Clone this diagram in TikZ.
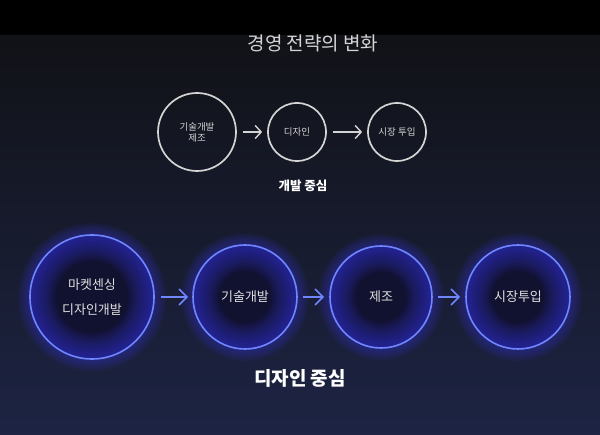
\documentclass[tikz,border=0pt]{standalone}
\usepackage{fontspec}
\newfontfamily\krfont{Noto Sans CJK KR}
\usetikzlibrary{arrows.meta}
\definecolor{bgTop}{HTML}{111217}
\definecolor{bgBot}{HTML}{1D2444}
\definecolor{ringGrey}{HTML}{D4D4D4}
\definecolor{ringBlue}{HTML}{6F86FF}
\definecolor{glowBlue}{HTML}{3A3AE6}
\definecolor{innerDark}{HTML}{111130}
\begin{document}
\begin{tikzpicture}[x=1pt,y=-1pt,font=\krfont,
  topring/.style={circle,draw=ringGrey,line width=1.7pt,inner sep=0pt,text=ringGrey,font=\krfont\fontsize{9.5}{11}\selectfont,align=center},
  botring/.style={circle,draw=ringBlue,line width=1.6pt,inner sep=0pt,text=white!88!black,font=\krfont\fontsize{13}{25}\selectfont,align=center},
  toparrow/.style={ringGrey,line width=1.4pt,-{Straight Barb[length=6pt,width=13pt]}},
  botarrow/.style={ringBlue,line width=1.6pt,-{Straight Barb[length=8pt,width=16pt]}}]
\useasboundingbox (0,0) rectangle (600,435);
\fill[black] (0,0) rectangle (600,36);
\shade[top color=bgTop,bottom color=bgBot] (0,36) rectangle (600,435);

%上排（開發中心）
\coordinate (cTechPt) at (197,132);
\coordinate (cDesignPt) at (297,132);
\coordinate (cMarketPt) at (397,132);

%下排（設計中心）
\coordinate (cSensePt) at (92,297);
\coordinate (cDevPt) at (245,297);
\coordinate (cMakePt) at (381,297);
\coordinate (cLaunchPt) at (518,297);

\node[text=ringGrey,font=\krfont\fontsize{19}{22}\selectfont] (cTitlePt) at (313,43) {경영 전략의 변화};

%發光的圓
\foreach \c/\r in {cSensePt/62,cDevPt/52,cMakePt/51,cLaunchPt/52}{
  \fill[innerDark] (\c) circle ({\r*1pt});
  \foreach \w in {2,4,...,26}
    \draw[glowBlue,opacity=0.06,line width=\w pt] (\c) circle ({(\r-\w/2)*1pt});
  \foreach \w in {2,4,...,12}
    \draw[glowBlue,opacity=0.07,line width=\w pt] (\c) circle ({(\r+\w/2)*1pt});
}

\node[topring,minimum size=78pt] (cTechNd) at (cTechPt) {기술개발\\제조};
\node[topring,minimum size=58pt] (cDesignNd) at (cDesignPt) {디자인};
\node[topring,minimum size=58pt] (cMarketNd) at (cMarketPt) {시장 투입};
\draw[toparrow,shorten <=6pt,shorten >=5pt] (cTechNd) -- (cDesignNd);
\draw[toparrow,shorten <=6pt,shorten >=5pt] (cDesignNd) -- (cMarketNd);
\node[text=white,font=\krfont\bfseries\fontsize{12.5}{14}\selectfont] (cTopCapPt) at (303,186) {개발 중심};

\node[botring,minimum size=124pt] (cSenseNd) at (cSensePt) {마켓센싱\\디자인개발};
\node[botring,minimum size=104pt] (cDevNd) at (cDevPt) {기술개발};
\node[botring,minimum size=102pt] (cMakeNd) at (cMakePt) {제조};
\node[botring,minimum size=104pt] (cLaunchNd) at (cLaunchPt) {시장투입};
\draw[botarrow,shorten <=6pt,shorten >=4pt] (cSenseNd) -- (cDevNd);
\draw[botarrow,shorten <=5pt,shorten >=5pt] (cDevNd) -- (cMakeNd);
\draw[botarrow,shorten <=5pt,shorten >=5pt] (cMakeNd) -- (cLaunchNd);
\node[text=white,font=\krfont\bfseries\fontsize{19}{22}\selectfont] (cBotCapPt) at (300,378) {디자인 중심};

\end{tikzpicture}
\end{document}
